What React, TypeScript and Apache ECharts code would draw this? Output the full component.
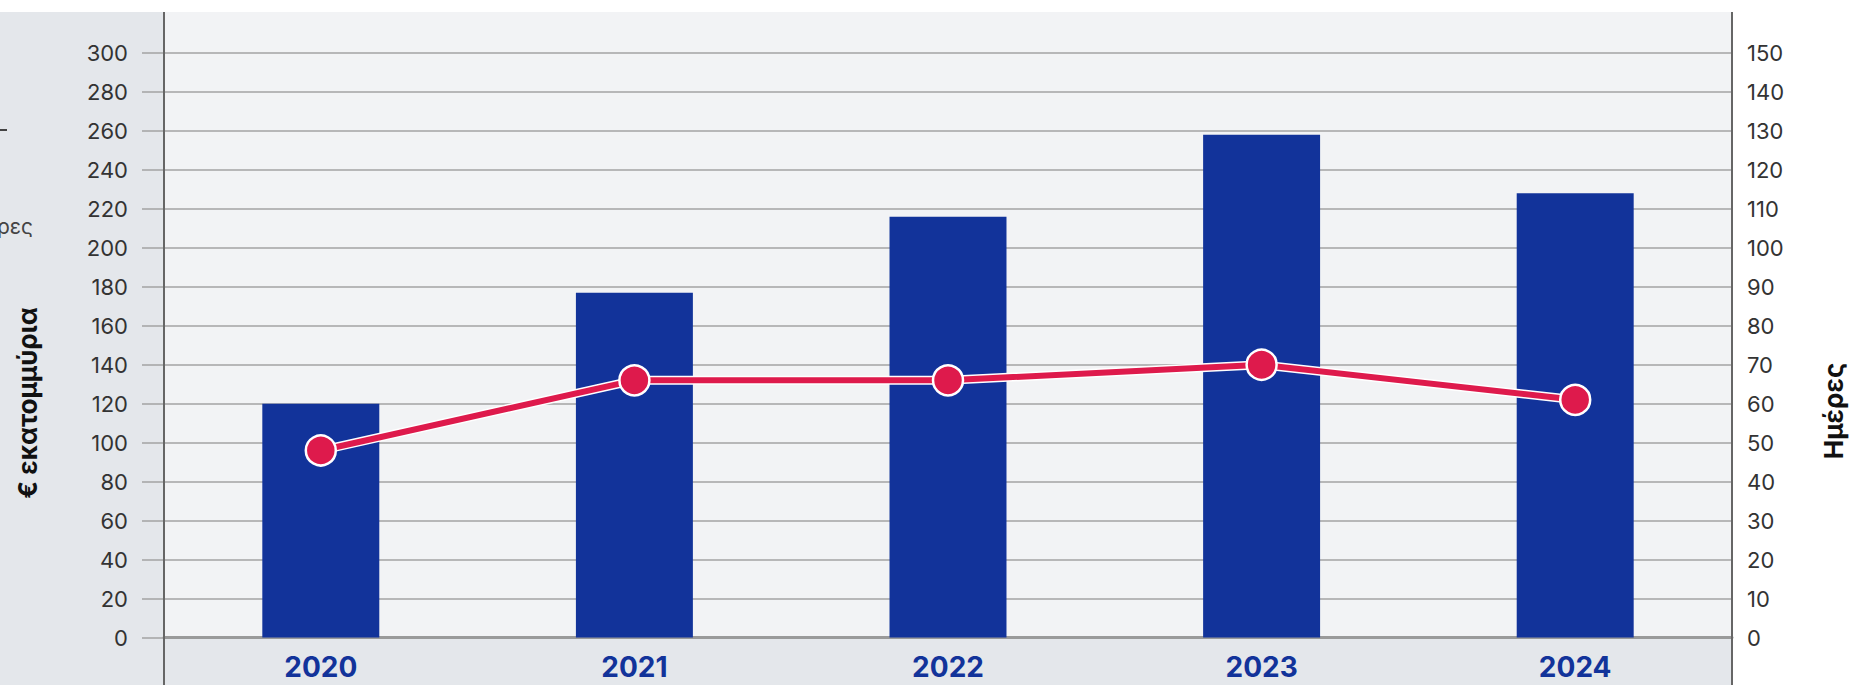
import React, { useEffect, useRef } from "react";
import * as echarts from "echarts";

const years = ["2020", "2021", "2022", "2023", "2024"];
const euroMillions = [120, 177, 216, 258, 228];
const days = [48, 66, 66, 70, 61];
const leftAxisName = "€ εκατομμύρια";
const rightAxisName = "Ημέρες";
const cutLegendText = "Ημέρες";

const FONT = "Inter, 'Noto Sans', sans-serif";
const BAR = "#12339a";
const RED = "#de1a4c";
const GRID = "#a3a3a3";

export default function App() {
  const ref = useRef<HTMLDivElement>(null);
  useEffect(() => {
    if (!ref.current) return;
    const chart = echarts.init(ref.current, undefined, { renderer: "svg" });
    const W = 1851, H = 685;
    const gl = 164, gr = 1732, gt = 53, gb = 637.5, top = 12;
    chart.setOption({
      animation: false,
      textStyle: { fontFamily: FONT },
      graphic: [
        { type: "rect", z: -10, shape: { x: 0, y: top, width: gl, height: H - top }, style: { fill: "#e4e7eb" }, silent: true },
        { type: "rect", z: -10, shape: { x: gl, y: top, width: gr - gl, height: gb - top }, style: { fill: "#f2f3f5" }, silent: true },
        { type: "rect", z: -10, shape: { x: gl, y: gb, width: gr - gl, height: H - gb }, style: { fill: "#e4e7eb" }, silent: true },
        { type: "line", z: 20, shape: { x1: gl, y1: top, x2: gl, y2: H }, style: { stroke: "#666", lineWidth: 2 }, silent: true },
        { type: "line", z: 20, shape: { x1: gr, y1: top, x2: gr, y2: H }, style: { stroke: "#666", lineWidth: 2 }, silent: true },
        { type: "rect", z: 20, shape: { x: -5, y: 129, width: 12, height: 2 }, style: { fill: "#444" }, silent: true },
        {
          type: "text", z: 20, x: 33, y: 226,
          style: { text: cutLegendText, align: "right", verticalAlign: "middle", font: `21px ${FONT}`, fill: "#444" },
          silent: true,
        },
        {
          type: "text", z: 20, x: 27, y: 403, rotation: Math.PI / 2,
          style: { text: leftAxisName, align: "center", verticalAlign: "middle", font: `bold 26px ${FONT}`, fill: "#111" },
          silent: true,
        },
        {
          type: "text", z: 20, x: 1833, y: 411, rotation: Math.PI / 2,
          style: { text: rightAxisName, align: "center", verticalAlign: "middle", font: `bold 26px ${FONT}`, fill: "#111" },
          silent: true,
        },
      ],
      grid: { left: gl, right: W - gr, top: gt, bottom: H - gb, containLabel: false },
      xAxis: {
        type: "category",
        data: years,
        axisLine: { show: true, lineStyle: { color: "#9a9a9a", width: 3 } },
        axisTick: { show: false },
        axisLabel: { color: BAR, fontWeight: "bold", fontSize: 28, margin: 15, fontFamily: FONT },
        splitLine: { show: false },
      },
      yAxis: [
        {
          type: "value", min: 0, max: 300, interval: 20, position: "left",
          axisLine: { show: false },
          axisTick: { show: true, length: 22, lineStyle: { color: GRID, width: 1.5 } },
          axisLabel: { margin: 36, fontSize: 22, color: "#333", fontFamily: FONT },
          splitLine: { show: true, lineStyle: { color: GRID, width: 1.5 } },
        },
        {
          type: "value", min: 0, max: 150, interval: 10, position: "right",
          axisLine: { show: false },
          axisTick: { show: false },
          axisLabel: { margin: 15, fontSize: 22, color: "#333", fontFamily: FONT },
          splitLine: { show: false },
        },
      ],
      series: [
        {
          type: "bar", yAxisIndex: 0, data: euroMillions, barWidth: "37.3%",
          itemStyle: { color: BAR }, z: 2,
        },
        {
          type: "line", yAxisIndex: 1, data: days, symbol: "none",
          lineStyle: { color: "#ffffff", width: 9 }, z: 3, silent: true,
        },
        {
          type: "line", yAxisIndex: 1, data: days, symbol: "circle", symbolSize: 30,
          lineStyle: { color: RED, width: 6 },
          itemStyle: { color: RED, borderColor: "#ffffff", borderWidth: 2.5 },
          z: 4,
        },
      ],
    });
    return () => chart.dispose();
  }, []);
  return (
    <div
      ref={ref}
      style={{ position: "fixed", left: 0, top: 0, width: 1851, height: 685, background: "#ffffff" }}
    />
  );
}
